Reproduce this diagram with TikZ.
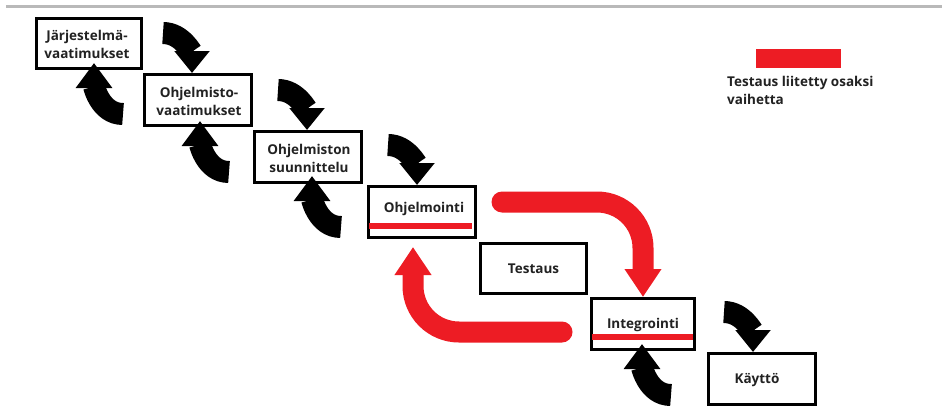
\documentclass[tikz,border=0pt]{standalone}
\usepackage{fontspec}
\setmainfont{Open Sans}
\usetikzlibrary{arrows.meta,calc}
\definecolor{pred}{HTML}{ED1C24}
\definecolor{ptext}{HTML}{222222}
\begin{document}
\begin{tikzpicture}[x=1pt,y=1pt,
  box/.style={draw=black, line width=3pt, minimum width=105pt, minimum height=50pt, inner sep=0pt},
  lbl/.style={font=\bfseries\fontsize{13.5}{18}\selectfont, text=ptext, align=center},
  blk/.style={draw=black, line width=22pt, -{Triangle[width=34pt,length=22pt]}},
  redarr/.style={draw=pred, line width=21pt, line cap=round, rounded corners=46pt, -{Triangle[width=35pt,length=28pt]}},
  underl/.style={draw=pred, line width=6pt},
]
\useasboundingbox (0,0) rectangle (942,-410);
\fill[white] (0,0) rectangle (942,-410);
\draw[gray!55, line width=3pt] (6,-6.5) -- (942,-6.5);

% boxes
\node[box] (b1) at (89,-43.5) {};
\node[box, minimum width=107pt, minimum height=51pt] (b2) at (198,-100) {};
\node[box, minimum width=107pt, minimum height=51pt] (b3) at (308,-157) {};
\node[box, minimum width=107pt, minimum height=51pt] (b4) at (422,-212) {};
\node[box, minimum width=106pt] (b5) at (533.5,-268.5) {};
\node[box, minimum width=103pt, minimum height=51pt] (b6) at (643,-324) {};
\node[box, minimum width=107pt, minimum height=51pt] (b7) at (762,-379) {};

% labels
\node[lbl] (t1) at ($(b1)+(-2,-1)$) {Järjestelmä-\\vaatimukset};
\node[lbl] (t2) at ($(b2)+(1,-1)$) {Ohjelmisto-\\vaatimukset};
\node[lbl] (t3) at ($(b3)+(1,-1)$) {Ohjelmiston\\suunnittelu};
\node[lbl] (t4) at ($(b4)+(2,3)$) {Ohjelmointi};
\node[lbl] (t5) at ($(b5)+(0,0)$) {Testaus};
\node[lbl] (t6) at ($(b6)+(0,-1)$) {Integrointi};
\node[lbl] (t7) at ($(b7)+(-5,-1)$) {Käyttö};

% red underlines
\draw[underl] ($(b4.south west)+(2,13)$) -- ($(b4.south east)+(-5,13)$);
\draw[underl] ($(b6.south west)+(2,14)$) -- ($(b6.south east)+(-3,14)$);

% down arrows
\coordinate (d1) at ($(b2.north west)+(49,0)$);
\coordinate (d2) at ($(b3.north west)+(54,0)$);
\coordinate (d3) at ($(b4.north west)+(50,0)$);
\coordinate (d4) at ($(b7.north west)+(46,0)$);
\coordinate (d1s) at ($(d1)+(-29,40)$);
\coordinate (d2s) at ($(d2)+(-29,40)$);
\coordinate (d3s) at ($(d3)+(-29,40)$);
\coordinate (d4s) at ($(d4)+(-29,40)$);
\draw[blk] (d1s) to[out=0,in=90] (d1);
\draw[blk] (d2s) to[out=0,in=90] (d2);
\draw[blk] (d3s) to[out=0,in=90] (d3);
\draw[blk] (d4s) to[out=0,in=90] (d4);

% up arrows
\coordinate (u1) at ($(b1.south west)+(59,7)$);
\coordinate (u2) at ($(b2.south west)+(57,6)$);
\coordinate (u3) at ($(b3.south west)+(59,8)$);
\coordinate (u4) at ($(b6.south west)+(52,7)$);
\coordinate (u1s) at ($(u1)+(29,-51)$);
\coordinate (u2s) at ($(u2)+(29,-51)$);
\coordinate (u3s) at ($(u3)+(29,-51)$);
\coordinate (u4s) at ($(u4)+(29,-51)$);
\draw[blk,-{Triangle[width=35pt,length=25pt]}] (u1s) to[out=180,in=-90] (u1);
\draw[blk,-{Triangle[width=35pt,length=25pt]}] (u2s) to[out=180,in=-90] (u2);
\draw[blk,-{Triangle[width=35pt,length=25pt]}] (u3s) to[out=180,in=-90] (u3);
\draw[blk,-{Triangle[width=35pt,length=25pt]}] (u4s) to[out=180,in=-90] (u4);

% red arrows
\coordinate (r1s) at (502,-202);
\coordinate (r2s) at (562,-332);
\coordinate (r2e) at ($(b4.south)+(-9,-8)$);
\draw[redarr] (r1s) -- (r1s -| b6.north) -- (b6.north);
\draw[redarr] (r2s) -- (r2s -| r2e) -- (r2e);

% legend
\fill[pred] (756,-49) rectangle (841,-68);
\node[lbl, font=\bfseries\fontsize{13.5}{18}\selectfont, align=left, anchor=north west, inner sep=0pt] (leg) at (727,-76) {Testaus liitetty osaksi\\vaihetta};
\end{tikzpicture}
\end{document}
